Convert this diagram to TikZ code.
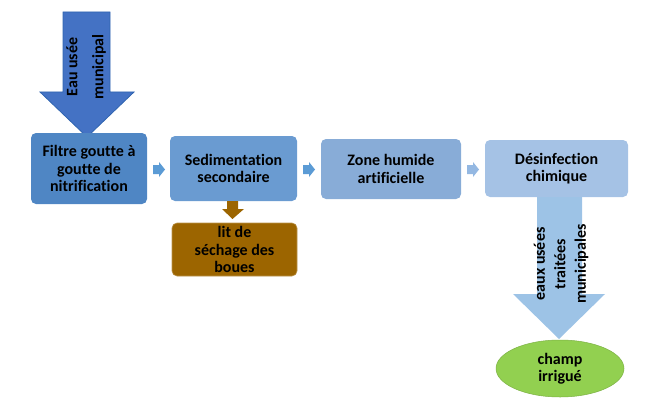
\documentclass[tikz,border=0pt]{standalone}
\usepackage{fontspec}
\setmainfont{Carlito}[Ligatures=NoCommon]
\usetikzlibrary{shapes.geometric}
\definecolor{cA}{HTML}{4F86C4}
\definecolor{cB}{HTML}{6A9BD1}
\definecolor{cC}{HTML}{88ACD7}
\definecolor{cD}{HTML}{A5C2E5}
\definecolor{cArrA}{HTML}{5B9BD5}
\definecolor{cArrC}{HTML}{94B8E2}
\definecolor{cTop}{HTML}{4472C4}
\definecolor{cTopB}{HTML}{2F64B0}
\definecolor{cBig}{HTML}{9DC3E6}
\definecolor{cGreen}{HTML}{92D050}
\definecolor{cBrown}{HTML}{9C6500}
\tikzset{
  procbox/.style={rounded corners=5pt, inner sep=0pt, align=center,
    font=\fontsize{16}{17.5}\selectfont\bfseries, text=black},
  lbl/.style={align=center, font=\fontsize{16}{17.5}\selectfont\bfseries, text=black, inner sep=0pt}
}
\begin{document}
\begin{tikzpicture}[x=1pt,y=-1pt]
\useasboundingbox (0,0) rectangle (652,409);
% top arrow
\fill[cTop, draw=cTopB, line width=0.8pt] (63,12) -- (110,12) -- (110,92) -- (134,92) -- (87,137) -- (40,92) -- (63,92) -- cycle;
\node[lbl, rotate=90, font=\fontsize{16}{26}\selectfont\bfseries] (t1) at (86,67) {Eau usée\\municipal};
% boxes
\node[procbox, fill=cA, minimum width=116pt, minimum height=71pt] (b1) at (89,168.5) {Filtre goutte à\\goutte de\\nitrification};
\node[procbox, fill=cB, minimum width=127pt, minimum height=65pt] (b2) at (233.5,168.5) {Sedimentation\\secondaire};
\node[procbox, fill=cC, minimum width=140pt, minimum height=60pt] (b3) at (391,169) {Zone humide\\artificielle};
\node[procbox, fill=cD, minimum width=143pt, minimum height=57pt] (b4) at (556.5,168.5) {Désinfection\\chimique};
\node[procbox, fill=cBrown, draw=cBrown!70!white, line width=0.6pt, minimum width=125pt, minimum height=53pt] (b5) at (234.5,249.5) {lit de\\séchage des\\boues};
\node[ellipse, fill=cGreen, draw=cGreen!85!black, line width=0.5pt, minimum width=128pt, minimum height=57pt, inner sep=0pt, align=center, font=\fontsize{16}{17.5}\selectfont\bfseries] (e1) at (560,368.5) {champ\\irrigué};
% small arrows
\fill[cArrA] (153,165) -- (159,165) -- (159,162) -- (165,169.5) -- (159,177) -- (159,174) -- (153,174) -- cycle;
\fill[cArrA] (303,165) -- (309,165) -- (309,162) -- (315,169.5) -- (309,177) -- (309,174) -- (303,174) -- cycle;
\fill[cArrC] (467,165) -- (473,165) -- (473,162) -- (479,169.5) -- (473,177) -- (473,174) -- (467,174) -- cycle;
% brown arrow
\fill[cBrown] (227,201) -- (238,201) -- (238,209) -- (244,209) -- (232.5,219) -- (222,209) -- (227,209) -- cycle;
% big light arrow
\fill[cBig] (537,197) -- (582,197) -- (582,294) -- (605,294) -- (559,339) -- (513,294) -- (537,294) -- cycle;
\node[lbl, rotate=90, font=\fontsize{16}{20.5}\selectfont\bfseries] (t2) at (561,264) {eaux usées\\traitées\\municipales};
\end{tikzpicture}
\end{document}
